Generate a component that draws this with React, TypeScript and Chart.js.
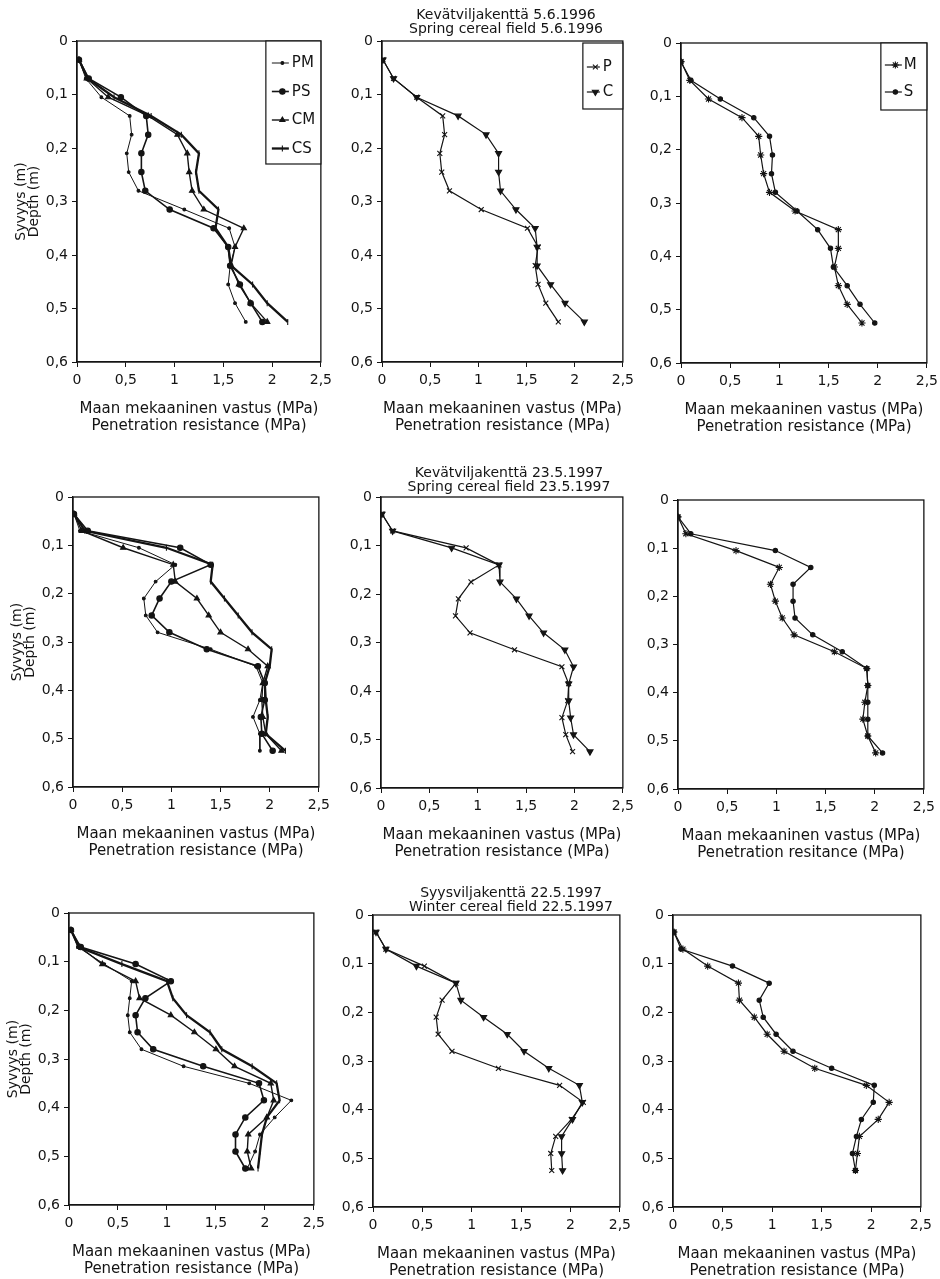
import React, { useEffect, useRef } from 'react';
import { Chart, registerables } from 'chart.js';

Chart.register(...registerables);

// ---------- data ----------
const DEPTH = [0.035, 0.07, 0.105, 0.14, 0.175, 0.21, 0.245, 0.28, 0.315, 0.35, 0.385, 0.42, 0.455, 0.49, 0.525];

const X_TICK_VALUES = [0, 0.5, 1, 1.5, 2, 2.5];
const X_TICK_LABELS = ['0', '0,5', '1', '1,5', '2', '2,5'];
const Y_TICK_VALUES = [0, 0.1, 0.2, 0.3, 0.4, 0.5, 0.6];
const Y_TICK_LABELS = ['0', '0,1', '0,2', '0,3', '0,4', '0,5', '0,6'];

// Spring cereal field 5.6.1996
const S96_PM = [0.02, 0.09, 0.25, 0.54, 0.56, 0.51, 0.53, 0.63, 1.1, 1.56, 1.62, 1.57, 1.55, 1.62, 1.73];
const S96_PS = [0.02, 0.12, 0.45, 0.71, 0.73, 0.66, 0.66, 0.7, 0.95, 1.4, 1.55, 1.57, 1.67, 1.78, 1.9];
const S96_CM = [0.02, 0.1, 0.32, 0.73, 1.03, 1.13, 1.15, 1.18, 1.3, 1.71, 1.62, 1.58, 1.66, 1.78, 1.95];
const S96_CS = [0.02, 0.11, 0.38, 0.76, 1.07, 1.25, 1.22, 1.25, 1.45, 1.42, 1.55, 1.58, 1.8, 1.95, 2.16];
const S96_P = [0.01, 0.12, 0.36, 0.63, 0.65, 0.6, 0.62, 0.7, 1.03, 1.51, 1.62, 1.59, 1.62, 1.7, 1.83];
const S96_C = [0.01, 0.12, 0.36, 0.79, 1.08, 1.21, 1.21, 1.23, 1.39, 1.59, 1.61, 1.61, 1.75, 1.9, 2.1];
const S96_M = [0.0, 0.09, 0.28, 0.62, 0.79, 0.81, 0.84, 0.9, 1.16, 1.6, 1.6, 1.56, 1.6, 1.69, 1.84];
const S96_S = [0.0, 0.1, 0.4, 0.74, 0.9, 0.93, 0.92, 0.96, 1.18, 1.39, 1.52, 1.55, 1.69, 1.82, 1.97];

// Spring cereal field 23.5.1997
const S97_PM = [0.01, 0.07, 0.67, 1.04, 0.84, 0.72, 0.74, 0.86, 1.4, 1.86, 1.93, 1.9, 1.83, 1.9, 1.9];
const S97_PS = [0.01, 0.15, 1.09, 1.4, 1.0, 0.88, 0.8, 0.98, 1.36, 1.88, 1.95, 1.95, 1.91, 1.92, 2.03];
const S97_CM = [0.01, 0.09, 0.51, 1.02, 1.04, 1.26, 1.38, 1.5, 1.78, 1.98, 1.93, 1.92, 1.93, 1.96, 2.12];
const S97_CS = [0.01, 0.12, 0.95, 1.42, 1.4, 1.54, 1.68, 1.82, 2.02, 2.0, 1.95, 1.96, 1.98, 1.96, 2.16];
const S97_P = [0.01, 0.12, 0.88, 1.22, 0.93, 0.8, 0.77, 0.92, 1.38, 1.87, 1.94, 1.93, 1.87, 1.91, 1.98];
const S97_C = [0.01, 0.12, 0.73, 1.22, 1.23, 1.4, 1.53, 1.68, 1.9, 1.99, 1.94, 1.94, 1.96, 1.99, 2.16];
const S97_M = [0.0, 0.08, 0.59, 1.03, 0.94, 0.99, 1.06, 1.18, 1.59, 1.92, 1.93, 1.9, 1.88, 1.93, 2.01];
const S97_S = [0.0, 0.13, 0.99, 1.35, 1.17, 1.17, 1.19, 1.37, 1.67, 1.92, 1.93, 1.93, 1.93, 1.93, 2.08];

// Winter cereal field 22.5.1997
const W97_PM = [0.02, 0.09, 0.36, 0.64, 0.62, 0.6, 0.62, 0.74, 1.17, 1.84, 2.27, 2.1, 1.95, 1.9, 1.82];
const W97_PS = [0.02, 0.12, 0.68, 1.04, 0.78, 0.68, 0.7, 0.86, 1.37, 1.94, 1.99, 1.8, 1.7, 1.7, 1.8];
const W97_CM = [0.02, 0.11, 0.34, 0.68, 0.72, 1.04, 1.28, 1.5, 1.69, 2.06, 2.09, 2.02, 1.83, 1.82, 1.86];
const W97_CS = [0.02, 0.1, 0.54, 1.0, 1.06, 1.2, 1.44, 1.56, 1.87, 2.12, 2.15, 2.02, 1.97, 1.95, 1.93];
const W97_P = [0.03, 0.13, 0.52, 0.84, 0.7, 0.64, 0.66, 0.8, 1.27, 1.89, 2.13, 2.01, 1.85, 1.8, 1.81];
const W97_C = [0.03, 0.13, 0.44, 0.84, 0.89, 1.12, 1.36, 1.53, 1.78, 2.09, 2.12, 2.02, 1.91, 1.91, 1.92];
const W97_M = [0.01, 0.1, 0.35, 0.66, 0.67, 0.82, 0.95, 1.12, 1.43, 1.95, 2.18, 2.07, 1.88, 1.86, 1.84];
const W97_S = [0.01, 0.08, 0.6, 0.97, 0.87, 0.91, 1.04, 1.21, 1.6, 2.03, 2.02, 1.9, 1.85, 1.81, 1.84];

const TITLE_1996 = ['Kevätviljakenttä 5.6.1996', 'Spring cereal field 5.6.1996'];
const TITLE_1997S = ['Kevätviljakenttä 23.5.1997', 'Spring cereal field 23.5.1997'];
const TITLE_1997W = ['Syysviljakenttä 22.5.1997', 'Winter cereal field 22.5.1997'];
const X_TITLE_FI = 'Maan mekaaninen vastus (MPa)';
const X_TITLE_EN = 'Penetration resistance (MPa)';
const X_TITLE_EN_TYPO = 'Penetration resitance (MPa)';
const Y_TITLE = ['Syvyys (m)', 'Depth (m)'];

// ---------- styles ----------
const INK = '#141414';
const FONT = "'DejaVu Sans', 'Liberation Sans', sans-serif";

const STYLE: Record<string, any> = {
  PM: { borderWidth: 1, pointStyle: 'circle', pointRadius: 1.4, pointRotation: 0 },
  PS: { borderWidth: 1.6, pointStyle: 'circle', pointRadius: 2.7, pointRotation: 0 },
  CM: { borderWidth: 1.4, pointStyle: 'triangle', pointRadius: 3, pointRotation: 0 },
  CS: { borderWidth: 2.3, pointStyle: 'line', pointRadius: 3, pointRotation: 90 },
  P: { borderWidth: 1.2, pointStyle: 'crossRot', pointRadius: 3.5, pointRotation: 0 },
  C: { borderWidth: 1.2, pointStyle: 'triangle', pointRadius: 3.5, pointRotation: 180 },
  M: { borderWidth: 1.2, pointStyle: 'star', pointRadius: 3.6, pointRotation: 0 },
  S: { borderWidth: 1.2, pointStyle: 'circle', pointRadius: 2.2, pointRotation: 0 },
};

type PanelCfg = {
  plot: [number, number, number, number];
  series: [string, number[]][];
  yTitle: boolean;
  title?: { lines: string[]; x: number; y: number };
  legend?: { width: number; height: number; dy: number; first: number; step: number; l0: number; l1: number; tx: number };
  xTitle2: string;
};

const PANELS: PanelCfg[] = [
  {
    plot: [77, 41, 323, 362],
    series: [['PM', S96_PM], ['PS', S96_PS], ['CM', S96_CM], ['CS', S96_CS]],
    yTitle: true,
    legend: { width: 55, height: 123, dy: 0, first: 22, step: 28.5, l0: 6, l1: 23, tx: 26 },
    xTitle2: X_TITLE_EN,
  },
  {
    plot: [382, 41, 625, 362],
    series: [['P', S96_P], ['C', S96_C]],
    yTitle: false,
    title: { lines: TITLE_1996, x: 506, y: 15 },
    legend: { width: 40, height: 66, dy: 2, first: 24, step: 25, l0: 4, l1: 17, tx: 20 },
    xTitle2: X_TITLE_EN,
  },
  {
    plot: [681, 43, 929, 363],
    series: [['M', S96_M], ['S', S96_S]],
    yTitle: false,
    legend: { width: 46, height: 67, dy: 0, first: 22, step: 27, l0: 4, l1: 21, tx: 23 },
    xTitle2: X_TITLE_EN,
  },
  {
    plot: [73, 497, 321, 787],
    series: [['PM', S97_PM], ['PS', S97_PS], ['CM', S97_CM], ['CS', S97_CS]],
    yTitle: true,
    xTitle2: X_TITLE_EN,
  },
  {
    plot: [381, 497, 625, 788],
    series: [['P', S97_P], ['C', S97_C]],
    yTitle: false,
    title: { lines: TITLE_1997S, x: 509, y: 473 },
    xTitle2: X_TITLE_EN,
  },
  {
    plot: [678, 500, 926, 789],
    series: [['M', S97_M], ['S', S97_S]],
    yTitle: false,
    xTitle2: X_TITLE_EN_TYPO,
  },
  {
    plot: [69, 913, 316, 1205],
    series: [['PM', W97_PM], ['PS', W97_PS], ['CM', W97_CM], ['CS', W97_CS]],
    yTitle: true,
    xTitle2: X_TITLE_EN,
  },
  {
    plot: [373, 915, 622, 1207],
    series: [['P', W97_P], ['C', W97_C]],
    yTitle: false,
    title: { lines: TITLE_1997W, x: 511, y: 893 },
    xTitle2: X_TITLE_EN,
  },
  {
    plot: [673, 915, 923, 1207],
    series: [['M', W97_M], ['S', W97_S]],
    yTitle: false,
    xTitle2: X_TITLE_EN,
  },
];

// ---------- plugins ----------
function drawMarker(ctx: CanvasRenderingContext2D, style: string, r: number, rot: number, x: number, y: number) {
  ctx.save();
  ctx.translate(x, y);
  ctx.rotate((rot * Math.PI) / 180);
  ctx.beginPath();
  const d = r * Math.SQRT1_2;
  switch (style) {
    case 'circle':
      ctx.arc(0, 0, r, 0, Math.PI * 2);
      ctx.fill();
      ctx.stroke();
      break;
    case 'triangle':
      ctx.moveTo(0, -r);
      ctx.lineTo(r * 0.866, r * 0.5);
      ctx.lineTo(-r * 0.866, r * 0.5);
      ctx.closePath();
      ctx.fill();
      ctx.stroke();
      break;
    case 'crossRot':
      ctx.moveTo(-d, -d); ctx.lineTo(d, d);
      ctx.moveTo(-d, d); ctx.lineTo(d, -d);
      ctx.stroke();
      break;
    case 'star':
      ctx.moveTo(-d, -d); ctx.lineTo(d, d);
      ctx.moveTo(-d, d); ctx.lineTo(d, -d);
      ctx.moveTo(0, -r); ctx.lineTo(0, r);
      ctx.moveTo(-r, 0); ctx.lineTo(r, 0);
      ctx.stroke();
      break;
    case 'line':
      ctx.moveTo(-r, 0); ctx.lineTo(r, 0);
      ctx.stroke();
      break;
  }
  ctx.restore();
}

const framePlugin = {
  id: 'frame',
  afterDatasetsDraw(chart: any) {
    const { ctx, chartArea } = chart;
    ctx.save();
    ctx.strokeStyle = INK;
    ctx.lineWidth = 1.3;
    ctx.strokeRect(chartArea.left, chartArea.top, chartArea.right - chartArea.left, chartArea.bottom - chartArea.top);
    ctx.restore();
  },
};

const boxLegendPlugin = {
  id: 'boxLegend',
  afterDraw(chart: any, _args: any, opts: any) {
    if (!opts || !opts.width) return;
    const { ctx, chartArea } = chart;
    const x0 = chartArea.right - opts.width;
    const y0 = chartArea.top + opts.dy;
    ctx.save();
    ctx.fillStyle = '#ffffff';
    ctx.fillRect(x0, y0, opts.width, opts.height);
    ctx.strokeStyle = INK;
    ctx.lineWidth = 1.2;
    ctx.strokeRect(x0, y0, opts.width, opts.height);
    chart.data.datasets.forEach((ds: any, i: number) => {
      const y = y0 + opts.first + i * opts.step;
      ctx.strokeStyle = INK;
      ctx.fillStyle = INK;
      ctx.lineWidth = ds.borderWidth;
      ctx.beginPath();
      ctx.moveTo(x0 + opts.l0, y);
      ctx.lineTo(x0 + opts.l1, y);
      ctx.stroke();
      ctx.lineWidth = ds.pointBorderWidth;
      drawMarker(ctx, ds.pointStyle, ds.pointRadius, ds.pointRotation, x0 + (opts.l0 + opts.l1) / 2 + 2, y);
      ctx.font = `15px ${FONT}`;
      ctx.textAlign = 'left';
      ctx.textBaseline = 'middle';
      ctx.fillText(ds.label, x0 + opts.tx, y + 0.5);
    });
    ctx.restore();
  },
};

const groupTitlePlugin = {
  id: 'groupTitle',
  afterDraw(chart: any, _args: any, opts: any) {
    if (!opts || !opts.lines) return;
    const { ctx } = chart;
    ctx.save();
    ctx.fillStyle = INK;
    ctx.font = `14px ${FONT}`;
    ctx.textAlign = 'center';
    ctx.textBaseline = 'middle';
    opts.lines.forEach((t: string, i: number) => ctx.fillText(t, opts.x, opts.y + i * 14));
    ctx.restore();
  },
};

// ---------- panel ----------
const TP = 40;
const RP = 14;
const XH = 74;

function Panel({ cfg }: { cfg: PanelCfg }) {
  const ref = useRef<HTMLCanvasElement>(null);
  const [pl, pt, pr, pb] = cfg.plot;
  const YW = cfg.yTitle ? pl : 52;
  const left = pl - YW;
  const top = pt - TP;
  const W = YW + (pr - pl) + RP;
  const H = TP + (pb - pt) + XH;

  useEffect(() => {
    if (!ref.current) return;
    const datasets = cfg.series.map(([name, vals]) => {
      const st = STYLE[name];
      return {
        label: name,
        data: DEPTH.map((d, i) => ({ x: vals[i], y: d })),
        showLine: true,
        borderColor: INK,
        backgroundColor: INK,
        borderWidth: st.borderWidth,
        pointStyle: st.pointStyle,
        pointRadius: st.pointRadius,
        pointRotation: st.pointRotation,
        pointBackgroundColor: INK,
        pointBorderColor: INK,
        pointBorderWidth: 1.1,
        pointHoverRadius: st.pointRadius,
        tension: 0,
      };
    });
    const chart = new Chart(ref.current, {
      type: 'scatter',
      data: { datasets },
      plugins: [framePlugin, boxLegendPlugin, groupTitlePlugin],
      options: {
        responsive: false,
        animation: false,
        devicePixelRatio: 1,
        events: [],
        layout: { padding: { top: TP, right: RP, left: 0, bottom: 0 } },
        plugins: {
          legend: { display: false },
          tooltip: { enabled: false },
          boxLegend: cfg.legend || {},
          groupTitle: cfg.title
            ? { lines: cfg.title.lines, x: cfg.title.x - left, y: cfg.title.y - top }
            : {},
        } as any,
        scales: {
          x: {
            type: 'linear',
            position: 'bottom',
            min: 0,
            max: 2.5,
            afterBuildTicks: (s: any) => {
              s.ticks = X_TICK_VALUES.map((v) => ({ value: v }));
            },
            afterFit: (s: any) => {
              s.height = XH;
            },
            ticks: {
              autoSkip: false,
              maxRotation: 0,
              padding: 5,
              color: INK,
              font: { family: FONT, size: 14 },
              callback: (_v: any, i: number) => X_TICK_LABELS[i],
            },
            grid: { display: true, drawOnChartArea: false, drawTicks: true, tickLength: 5, color: INK, lineWidth: 1 },
            border: { display: true, color: INK, width: 1.3 },
            title: {
              display: true,
              text: [X_TITLE_FI, cfg.xTitle2],
              color: INK,
              font: { family: FONT, size: 15, lineHeight: 17 / 15 },
              padding: { top: 0, bottom: 1 },
            },
          },
          y: {
            type: 'linear',
            position: 'left',
            min: 0,
            max: 0.6,
            reverse: true,
            afterBuildTicks: (s: any) => {
              s.ticks = Y_TICK_VALUES.map((v) => ({ value: v }));
            },
            afterFit: (s: any) => {
              s.width = YW;
            },
            ticks: {
              autoSkip: false,
              padding: 4,
              color: INK,
              font: { family: FONT, size: 14 },
              callback: (_v: any, i: number) => Y_TICK_LABELS[i],
            },
            grid: { display: true, drawOnChartArea: false, drawTicks: true, tickLength: 5, color: INK, lineWidth: 1 },
            border: { display: true, color: INK, width: 1.3 },
            title: cfg.yTitle
              ? {
                  display: true,
                  text: Y_TITLE,
                  color: INK,
                  font: { family: FONT, size: 14, lineHeight: 13.5 / 14 },
                  padding: { top: Math.max(0, pl - 56 - 6.75), bottom: 0 },
                }
              : { display: false },
          },
        },
      } as any,
    });
    return () => chart.destroy();
  }, []);

  return (
    <canvas
      ref={ref}
      width={W}
      height={H}
      style={{ position: 'absolute', left, top, width: W, height: H }}
    />
  );
}

export default function App() {
  return (
    <div style={{ position: 'absolute', left: 0, top: 0, width: 940, height: 1279, background: '#ffffff', overflow: 'hidden' }}>
      {PANELS.map((cfg, i) => (
        <Panel key={i} cfg={cfg} />
      ))}
    </div>
  );
}
